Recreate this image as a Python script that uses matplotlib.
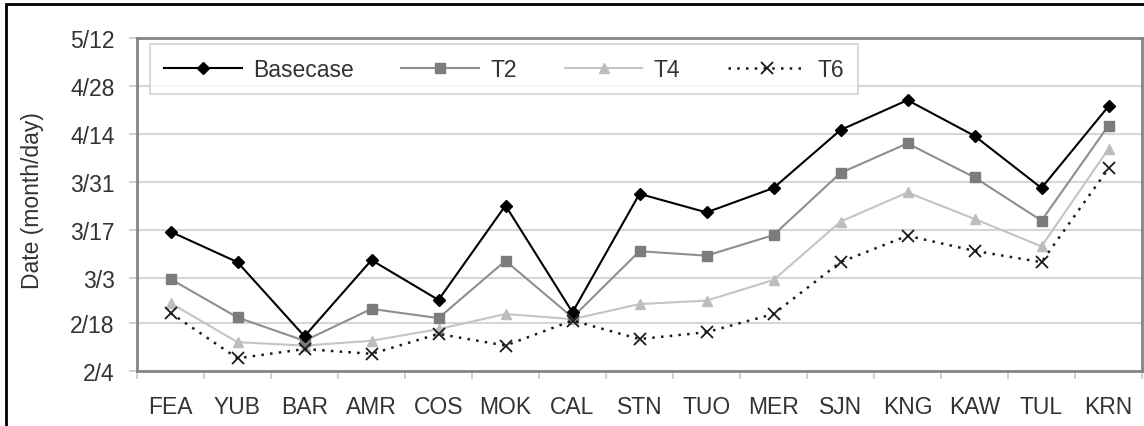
import matplotlib
matplotlib.use('Agg')
import matplotlib.pyplot as plt
from matplotlib.patches import Rectangle

# estações (eixo x)
estacoes = ['FEA', 'YUB', 'BAR', 'AMR', 'COS', 'MOK', 'CAL', 'STN',
            'TUO', 'MER', 'SJN', 'KNG', 'KAW', 'TUL', 'KRN']

# datas em dia do ano (1 = 1 de janeiro)
basecase = [75.6, 66.7, 45.1, 67.3, 55.7, 83.2, 52.1, 86.6,
            81.2, 88.3, 105.2, 113.9, 103.5, 88.3, 112.1]
t2 = [61.8, 50.6, 43.8, 53.1, 50.4, 67.1, 50.6, 69.9,
      68.6, 74.6, 92.7, 101.3, 91.4, 78.8, 106.5]
t4 = [54.8, 43.4, 42.4, 43.8, 47.2, 51.6, 50.1, 54.5,
      55.5, 61.5, 78.5, 87.0, 79.3, 71.3, 99.7]
t6 = [51.9, 38.7, 41.4, 40.0, 45.8, 42.4, 49.7, 44.3,
      46.3, 51.6, 66.7, 74.4, 70.0, 66.7, 94.0]

# marcas do eixo y
dias_ticks = [35, 49, 62, 76, 90, 104, 118, 132]
rotulos_ticks = ['2/4', '2/18', '3/3', '3/17', '3/31', '4/14', '4/28', '5/12']

plt.rcParams['font.family'] = ['Liberation Sans', 'DejaVu Sans']
texto = '#333333'
tam = 16.5

fig = plt.figure(figsize=(11.44, 4.27), dpi=100)
ax = fig.add_axes([137 / 1144, 1 - 372 / 427, 1005 / 1144, 333 / 427])

# moldura preta da figura
fig.patches.append(Rectangle((6 / 1144, -0.1), 1.2, 1 - 5 / 427 + 0.1,
                             transform=fig.transFigure, fill=False,
                             edgecolor='black', linewidth=2))

x = list(range(len(estacoes)))
ax.plot(x, basecase, color='black', linewidth=1.5, marker='D',
        markersize=6.5, label='Basecase', zorder=5)
ax.plot(x, t2, color='#8e8e8e', linewidth=1.5, marker='s',
        markersize=7, markerfacecolor='#7c7c7c', markeredgecolor='#7c7c7c',
        label='T2', zorder=4)
ax.plot(x, t4, color='#c4c4c4', linewidth=1.5, marker='^',
        markersize=7.5, markerfacecolor='#bdbdbd', markeredgecolor='#bdbdbd',
        label='T4', zorder=3)
ax.plot(x, t6, color='#1a1a1a', linewidth=1.8, linestyle=(0, (1, 2.5)),
        marker='x', markersize=8.5, markeredgewidth=1.3, label='T6', zorder=6)

ax.set_xlim(-0.5, len(estacoes) - 0.5)
ax.set_ylim(35, 132)
ax.set_yticks(dias_ticks)
ax.set_yticklabels(rotulos_ticks)
ax.set_xticks(x)
ax.set_xticklabels(estacoes)
ax.set_xticks([i + 0.5 for i in range(-1, len(estacoes))], minor=True)

ax.yaxis.grid(True, color='#d6d6d6', linewidth=1.5)
ax.set_axisbelow(True)
for lado in ax.spines.values():
    lado.set_color('#858585')
    lado.set_linewidth(2)

ax.tick_params(axis='x', which='major', length=0, pad=17,
               labelsize=tam, labelcolor=texto)
ax.tick_params(axis='x', which='minor', length=6, color='#c8c8c8', width=1.2)
ax.tick_params(axis='y', length=6, color='#c8c8c8', width=1.2, pad=10,
               labelsize=tam, labelcolor=texto)
ax.set_ylabel('Date (month/day)', fontsize=tam, color=texto)
ax.yaxis.set_label_coords(-0.093, 0.516)

leg = ax.legend(loc='upper left', ncol=4, mode='expand',
                bbox_to_anchor=(0.013, 0.5, 0.704, 0.482),
                handlelength=3.4, fontsize=tam, frameon=True,
                fancybox=False, borderaxespad=0, handletextpad=0.5,
                borderpad=0.6)
leg.get_frame().set_edgecolor('#d0d0d0')
leg.get_frame().set_linewidth(1.5)
for t in leg.get_texts():
    t.set_color(texto)

fig.savefig('out.png', dpi=100)
